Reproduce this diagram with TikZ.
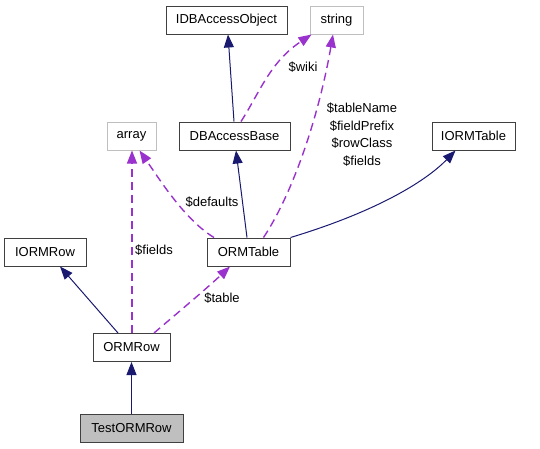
\documentclass[tikz,border=0pt]{standalone}
\usepackage{fontspec}
\setmainfont{Liberation Sans}
\usetikzlibrary{arrows.meta}
\definecolor{navy}{RGB}{25,25,112}
\definecolor{usecol}{RGB}{154,50,205}
\definecolor{boxgray}{RGB}{191,191,191}
\tikzset{
  cls/.style={draw=black!75, line width=1pt, fill=white, inner sep=0pt, font=\fontsize{13}{15}\selectfont},
  ext/.style={draw=boxgray, line width=1pt, fill=white, inner sep=0pt, font=\fontsize{13}{15}\selectfont},
  cur/.style={draw=black!75, line width=1pt, fill=boxgray, inner sep=0pt, font=\fontsize{13}{15}\selectfont},
  inh/.style={draw=navy, line width=1pt, -{Triangle[length=13pt,width=10pt]}},
  use/.style={draw=usecol, line width=1.4pt, dash pattern=on 8pt off 5pt, -{Triangle[length=13pt,width=10pt]}},
  lbl/.style={font=\fontsize{13}{17.5}\selectfont, inner sep=0pt, align=center}
}
\begin{document}
\begin{tikzpicture}[x=1pt,y=-1pt]
\useasboundingbox (0,0) rectangle (540,448);
\node[cls, minimum width=121pt, minimum height=28pt] (idb) at (226.5,20) {IDBAccessObject};
\node[ext, minimum width=53pt, minimum height=28pt] (str) at (336.5,20) {string};
\node[ext, minimum width=49pt, minimum height=28pt] (arr) at (131.5,136) {array};
\node[cls, minimum width=111pt, minimum height=28pt] (dbb) at (234.5,136) {DBAccessBase};
\node[cls, minimum width=83pt, minimum height=28pt] (iot) at (473.5,136) {IORMTable};
\node[cls, minimum width=82pt, minimum height=28pt] (ior) at (45,252) {IORMRow};
\node[cls, minimum width=83pt, minimum height=28pt] (ot) at (248.5,252) {ORMTable};
\node[cls, minimum width=77pt, minimum height=28pt] (orow) at (131.5,347.5) {ORMRow};
\node[cur, minimum width=103pt, minimum height=28pt] (test) at (131.5,428) {TestORMRow};

% inheritance
\draw[inh] ([xshift=-0.5pt]dbb.north) -- ([xshift=1.5pt]idb.south);
\draw[inh] ([xshift=-1.5pt]ot.north) -- ([xshift=1.5pt]dbb.south);
\draw[inh] (ot.north east) .. controls (375,212) and (425,182) .. ([xshift=-18pt]iot.south);
\draw[inh] ([xshift=-13.5pt]orow.north) -- ([xshift=15pt]ior.south);
\draw[inh] (test.north) -- (orow.south);

% usage
\draw[use] ([xshift=6.5pt]dbb.north) .. controls (260,92) and (270,62) .. ([xshift=-25pt]str.south);
\node[lbl] (lwiki) at (303,67) {\$wiki};
\draw[use] ([xshift=15pt]ot.north) .. controls (295,190) and (320,110) .. ([xshift=-3.5pt]str.south);
\node[lbl] (lstr) at (362,134.5) {\$tableName\\\$fieldPrefix\\\$rowClass\\\$fields};
\draw[use] ([xshift=-34.5pt]ot.north) .. controls (185,220) and (160,180) .. ([xshift=8pt]arr.south);
\node[lbl] (ldef) at (212,202) {\$defaults};
\draw[use] ([xshift=0.5pt]orow.north) -- ([xshift=0.5pt]arr.south);
\node[lbl] (lfld) at (154,250) {\$fields};
\draw[use] ([xshift=22.5pt]orow.north) .. controls (175,315) and (205,290) .. ([xshift=-18.5pt]ot.south);
\node[lbl] (ltab) at (222,298) {\$table};
\end{tikzpicture}
\end{document}
